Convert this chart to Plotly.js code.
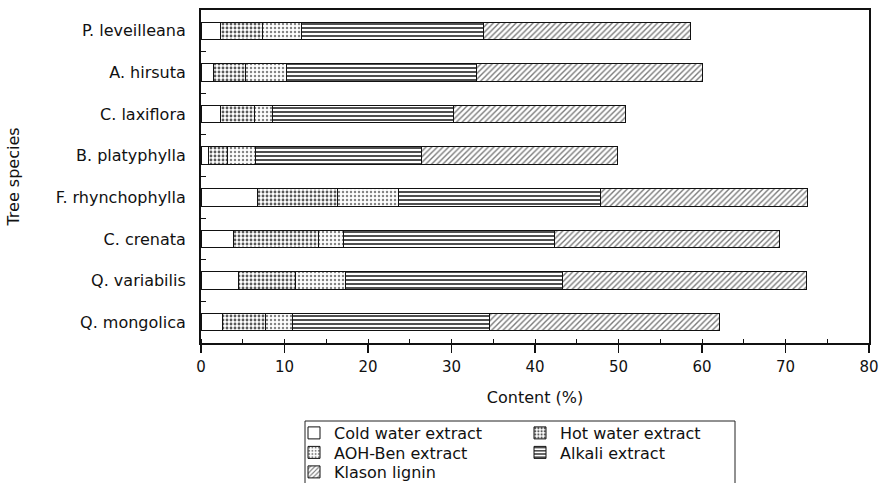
<!DOCTYPE html>
<html>
<head>
<meta charset="utf-8">
<script src="https://cdn.plot.ly/plotly-3.0.1.min.js"></script>
<style>html,body{margin:0;padding:0;background:#fff}</style>
</head>
<body>
<div id="chart" style="width:882px;height:483px"></div>
<script>
// Tree species, listed bottom to top along the category axis
const species = ['Q. mongolica', 'Q. variabilis', 'C. crenata', 'F. rhynchophylla',
                 'B. platyphylla', 'C. laxiflora', 'A. hirsuta', 'P. leveilleana'];

// Extract contents (%) per species, same order as above
const coldWater    = [2.6, 4.5, 3.9, 6.8, 0.9, 2.3, 1.5, 2.3];
const hotWater     = [5.1, 6.8, 10.2, 9.6, 2.3, 4.1, 3.8, 5.1];
const aohBen       = [3.2, 6.0, 3.0, 7.3, 3.3, 2.2, 4.9, 4.6];
const alkali       = [23.6, 26.0, 25.2, 24.2, 19.9, 21.6, 22.8, 21.8];
const klasonLignin = [27.6, 29.2, 27.0, 24.7, 23.5, 20.6, 27.0, 24.8];

const xTicks = [0, 10, 20, 30, 40, 50, 60, 70, 80];

const FONT = 'DejaVu Sans, Liberation Sans, sans-serif';

function seg(name, values, color, legendId, shape, fg, size, solidity) {
  return {
    type: 'bar',
    orientation: 'h',
    name: name,
    legend: legendId,
    y: species,
    x: values,
    width: 0.42,
    marker: {
      color: color,
      line: {color: '#111', width: 1},
      pattern: shape ? {shape: shape, fgcolor: fg, size: size, solidity: solidity, fillmode: 'replace'} : undefined
    },
    hoverinfo: 'x+y+name'
  };
}

// Legend rows: two entries per row, laid out as one boxed key under the axis
const traces = [
  seg('Cold water extract', coldWater, '#ffffff', 'legend', '', null),
  seg('Hot water extract', hotWater, '#c4c4c4', 'legend', '.', '#5a5a5a', 4, 0.4),
  seg('AOH-Ben extract', aohBen, '#dcdcdc', 'legend2', '.', '#858585', 4, 0.3),
  seg('Alkali extract', alkali, '#7a7a7a', 'legend2', '-', '#3c3c3c', 4, 0.45),
  seg('Klason lignin', klasonLignin, '#cfcfcf', 'legend3', '/', '#7a7a7a', 4, 0.35)
];

// plot area: 201..869 px wide, 10..343 px tall
const PLOT_L = 201, PLOT_W = 668, PLOT_B = 343, PLOT_H = 333;
const px2x = px => (px - PLOT_L) / PLOT_W;
const px2y = py => (PLOT_B - py) / PLOT_H;

function legendRow(centerY) {
  return {
    orientation: 'h',
    x: px2x(294),
    xanchor: 'left',
    y: px2y(centerY),
    yanchor: 'middle',
    traceorder: 'normal',
    entrywidth: 181,
    itemwidth: 30,
    bgcolor: 'rgba(0,0,0,0)',
    borderwidth: 0,
    font: {family: FONT, size: 16, color: '#111'},
    itemclick: false,
    itemdoubleclick: false
  };
}

const layout = {
  width: 882,
  height: 483,
  barmode: 'stack',
  paper_bgcolor: '#ffffff',
  plot_bgcolor: '#ffffff',
  margin: {l: 201, r: 13, t: 10, b: 140, autoexpand: false},
  font: {family: FONT, color: '#111', size: 14},
  showlegend: true,
  xaxis: {
    range: [0, 80],
    tickvals: xTicks,
    ticktext: xTicks.map(String),
    ticks: 'outside',
    ticklen: 8,
    tickwidth: 1.5,
    tickcolor: '#111',
    minor: {dtick: 5, ticks: 'inside', ticklen: 4, tickcolor: '#111', tickwidth: 1},
    showgrid: false,
    zeroline: false,
    showline: true,
    linecolor: '#111',
    linewidth: 2,
    mirror: true,
    ticklabelstandoff: 1,
    tickfont: {family: FONT, size: 15, color: '#111'},
    title: {text: 'Content (%)', font: {family: FONT, size: 16, color: '#111'}, standoff: 17},
    fixedrange: true
  },
  yaxis: {
    type: 'category',
    range: [-0.5, 7.5],
    ticks: 'inside',
    tickson: 'boundaries',
    ticklen: 5,
    tickcolor: '#111',
    showgrid: false,
    zeroline: false,
    showline: true,
    linecolor: '#111',
    linewidth: 2,
    mirror: true,
    ticklabelstandoff: 10,
    tickfont: {family: FONT, size: 16, color: '#111'},
    title: {text: 'Tree species', font: {family: FONT, size: 16, color: '#111'}, standoff: 32},
    fixedrange: true
  },
  legend: legendRow(433),
  legend2: legendRow(452.5),
  legend3: legendRow(472),
  shapes: [{
    type: 'rect',
    xref: 'paper', yref: 'paper',
    x0: px2x(305), x1: px2x(735),
    y0: px2y(421), y1: px2y(500),
    line: {color: '#222', width: 1},
    fillcolor: 'rgba(0,0,0,0)',
    layer: 'below'
  }]
};

Plotly.newPlot('chart', traces, layout, {displayModeBar: false, staticPlot: true});
</script>
</body>
</html>
